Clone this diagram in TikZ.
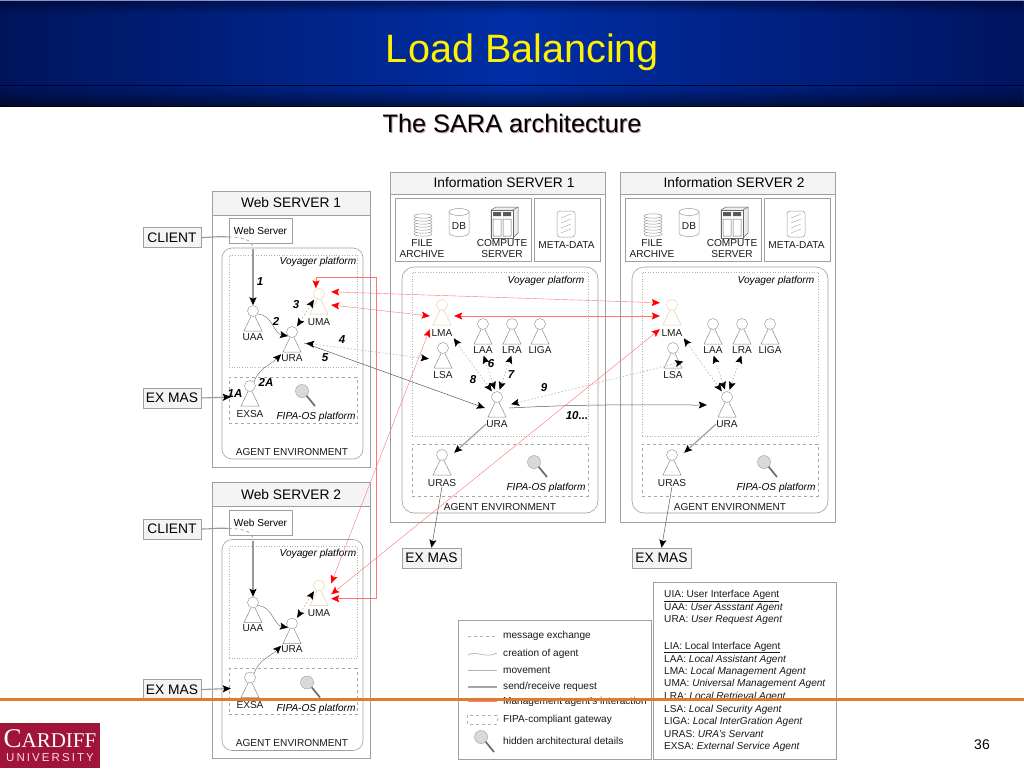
\documentclass[tikz,border=0pt]{standalone}
\usepackage{fontspec}
\usepackage{xcolor}
\setmainfont{Liberation Sans}
\setsansfont{Liberation Sans}
\newfontfamily\logoserif{Liberation Serif}
\newfontfamily\logosans[LetterSpace=18]{Liberation Sans}
\usetikzlibrary{arrows.meta,fadings}

\definecolor{barleft}{RGB}{0,20,92}
\definecolor{barmid}{RGB}{0,46,165}
\definecolor{barright}{RGB}{0,20,96}
\definecolor{cardiff}{RGB}{160,20,60}
\definecolor{rule}{RGB}{224,122,44}
\definecolor{paleagent}{RGB}{232,205,165}

\newcommand{\tensize}{\fontsize{10.1}{11.3}\selectfont}
\newcommand{\boxsize}{\fontsize{13.8}{15}\selectfont}
\newcommand{\stepsize}{\fontsize{11.5}{12}\selectfont\bfseries\itshape}

\tikzset{
  boxline/.style={draw=gray!75, line width=.6pt, inner sep=0pt},
  titlebox/.style={boxline, fill=gray!9, font=\boxsize},
  platform/.style={font=\tensize\itshape, inner sep=0pt},
  plain/.style={font=\tensize, inner sep=0pt, text=black!90},
  glossary/.style={plain, anchor=west},
  stepno/.style={font=\stepsize, inner sep=0pt},
  head/.style={circle, draw, minimum size=11pt, inner sep=0pt, fill=white},
  bodybox/.style={minimum width=24pt, minimum height=26pt, inner sep=0pt},
  request/.style={draw=gray!80, line width=1.1pt, -{Stealth[black,length=8pt,width=7pt,inset=1.5pt]}},
  reqdash/.style={draw=gray!70, line width=.8pt, dashed},
  reqline/.style={draw=gray!80, line width=1.1pt},
  movement/.style={draw=black!65, line width=.5pt, -{Stealth[black,length=8pt,width=7pt,inset=1.5pt]}},
  creation/.style={draw=black!60, line width=.4pt, -{Stealth[black,length=8pt,width=7pt,inset=1.5pt]}},
  message/.style={draw=gray!60, line width=.6pt, dash pattern=on 1.5pt off 2pt,
    shorten <=2pt, shorten >=2pt,
    {Stealth[black,length=8pt,width=7pt,inset=1.5pt]}-{Stealth[black,length=8pt,width=7pt,inset=1.5pt]}},
  manage/.style={draw=red!55, line width=.4pt,
    {Stealth[red,length=8pt,width=7pt,inset=1.5pt]}-{Stealth[red,length=8pt,width=7pt,inset=1.5pt]}}
}

% head, body and name of one agent; #6 is how far the name stands below the head
\newcommand{\agent}[6][gray!90]{%
  \node[head, draw=#1] (#2) at (#3,#4) {};
  \node[bodybox] (#2b) at (#3,#4+11) {};
  \draw[draw=#1, line width=.5pt] (#2.250) -- (#3-9,#4+20) -- (#3+9,#4+20) -- (#2.290);
  \node[plain] (#2L) at (#3,#4+#6) {#5};
}

\newcommand{\magnifier}[2]{%
  \draw[gray!85!black, line width=1.7pt] (#1+4,#2+4) -- (#1+13,#2+15);
  \draw[gray!70, fill=gray!30, line width=.5pt] (#1,#2) circle (6.5);
}

\begin{document}
\begin{tikzpicture}[x=1pt,y=-1pt,font=\tensize]
  \useasboundingbox (0,0) rectangle (1024,768);
  \fill[white] (0,0) rectangle (1024,768);

  % title bar
  \shade[left color=barleft, right color=barright, middle color=barmid] (0,0) rectangle (1024,106);
  \fill[black, opacity=.4, path fading=south] (0,0) rectangle (1024,14);
  \fill[black, opacity=.5, path fading=north] (0,86) rectangle (1024,106);
  \draw[black!80!blue, line width=.8pt] (0,85.5) -- (1024,85.5);
  \draw[black, line width=1pt] (0,106.5) -- (1024,106.5);
  \draw[gray!50!blue!60, line width=.8pt] (0,.4) -- (1024,.4);
  \node[inner sep=0pt, text=yellow, font=\fontsize{39.6}{44}\selectfont] (title) at (522.5,52.5) {Load Balancing};
  \node[inner sep=0pt, text=red!25!gray!70, font=\fontsize{25.3}{28}\selectfont] (subshadow) at (513,124.5) {The SARA architecture};
  \node[inner sep=0pt, text=black, font=\fontsize{25.3}{28}\selectfont] (subtitle) at (512,123.5) {The SARA architecture};

  % web servers
  \foreach \n/\dy/\lensx in {1/0/302,2/291.5/307}{
    \begin{scope}[yshift=-\dy pt]
      \node[boxline, minimum width=158pt, minimum height=276pt] (webw\n) at (291,329) {};
      \node[titlebox, minimum width=158pt, minimum height=24pt] (webh\n) at (291,203) {\raisebox{-.8pt}{Web SERVER \n}};
      \node[boxline, minimum width=63pt, minimum height=25pt, font=\tensize] (site\n) at (260.5,231) {Web Server};
      \node[boxline, rounded corners=10pt, minimum width=141pt, minimum height=211pt] (envw\n) at (292.5,353.5) {};
      \node[boxline, draw=gray!60, dotted, minimum width=128pt, minimum height=112pt] (voyw\n) at (293,311) {};
      \node[boxline, draw=gray!70, dashed, minimum width=128pt, minimum height=46pt] (fipw\n) at (293,400) {};
      \node[platform] (voyl\n) at (318,262) {Voyager platform};
      \node[platform] (fipl\n) at (316,417) {FIPA-OS platform};
      \node[plain] (envl\n) at (292,452) {AGENT ENVIRONMENT};
      \node[titlebox, minimum width=58pt, minimum height=20pt] (clientw\n) at (172,237.5) {CLIENT};
      \node[titlebox, minimum width=58pt, minimum height=20pt] (exmasw\n) at (172,398) {EX MAS};
      \magnifier{\lensx}{391}
      \agent{uaaw\n}{253}{311}{UAA}{26}
      \agent{uraw\n}{292}{332}{URA}{26}
      \agent[paleagent]{umaw\n}{319}{294}{UMA}{28}
      \agent{exsaw\n}{250}{386}{EXSA}{28}
      \coordinate (turnw\n) at (253,249);
      \draw[reqline] (clientw\n.east) to[out=0,in=175] ([yshift=-6pt]site\n.west);
      \draw[reqdash] ([yshift=-6pt]site\n.west) to[out=0,in=90] (turnw\n);
      \draw[request] (turnw\n) -- (uaaw\n.north);
      \draw[creation] (uaaw\n.-30) to[out=-5,in=170] (uraw\n.south west);
      \draw[creation] (exsaw\n.north east) to[out=70,in=225] (uraw\n L.north west);
      \draw[message] (uraw\n.north east) -- (umaw\n.south west);
      \draw[request] (exmasw\n.east) -- ([xshift=-7pt]exsaw\n b.west);
    \end{scope}
  }

  % information servers
  \foreach \n/\dx in {1/0,2/230}{
    \begin{scope}[xshift=\dx pt]
      \node[boxline, minimum width=215pt, minimum height=350pt] (info\n) at (497.5,347) {};
      \node[titlebox, minimum width=215pt, minimum height=22pt] (infoh\n) at (497.5,183) {\hspace*{13pt}Information SERVER \n};
      \node[boxline, minimum width=136pt, minimum height=63pt] (store\n) at (463,229.5) {};
      \node[boxline, minimum width=66pt, minimum height=63pt] (meta\n) at (567,229.5) {};
      \node[boxline, rounded corners=12pt, minimum width=196pt, minimum height=246pt] (envi\n) at (500,390) {};
      \node[boxline, draw=gray!60, dotted, minimum width=176pt, minimum height=164pt] (voyi\n) at (500,354) {};
      \node[boxline, draw=gray!70, dashed, minimum width=176pt, minimum height=52pt] (fipi\n) at (500,470) {};
      \node[platform] (voyil\n) at (546,281) {Voyager platform};
      \node[platform] (fipil\n) at (546,488) {FIPA-OS platform};
      \node[plain] (envil\n) at (500,507) {AGENT ENVIRONMENT};
      \node[titlebox, minimum width=59pt, minimum height=20pt] (exmasi\n) at (431.5,558) {EX MAS};
      \magnifier{534}{462}

      % file archive, data base, compute server, meta-data
      \foreach \yy in {234,231,...,216}{
        \draw[gray!80, fill=white, line width=.5pt] (423,\yy) ellipse (9 and 2.2);
      }
      \draw[gray!80, line width=.5pt] (449,212) -- (449,233) arc[start angle=180, end angle=360, x radius=10, y radius=-3.5] -- (469,212);
      \draw[gray!80, fill=white, line width=.5pt] (459,212) ellipse (10 and 3.5);
      \node[plain] (dbl\n) at (459,226) {DB};
      \draw[black!60, fill=gray!15, line width=.5pt] (491,210) -- (496,207) -- (518,207) -- (518,233) -- (513,238) -- (491,238) -- cycle;
      \draw[black!60, fill=white, line width=.5pt] (491,210) rectangle (513,238);
      \fill[black!65] (493,212) rectangle (501,216) (503,212) rectangle (511,216);
      \draw[black!60, line width=.5pt] (493,219) rectangle (501,236) (503,219) rectangle (511,236) (513,210) -- (518,207);
      \draw[gray!80, rounded corners=3pt, line width=.5pt] (557,211) rectangle (575,237);
      \foreach \yy in {218,223,228,233}{
        \draw[gray!70, line width=.4pt] (561,\yy) -- (571,\yy-4);
      }
      \node[plain, align=center] (filel\n) at (422,248.5) {FILE\\ARCHIVE};
      \node[plain, align=center] (compl\n) at (502,248.5) {COMPUTE\\SERVER};
      \node[plain] (metal\n) at (566.5,245) {META-DATA};

      \agent[paleagent]{lmai\n}{442}{305}{LMA}{28}
      \agent{laai\n}{483}{324}{LAA}{26}
      \agent{lrai\n}{512}{324}{LRA}{26}
      \agent{ligai\n}{540}{324}{LIGA}{26}
      \agent{lsai\n}{443}{348}{LSA}{27}
      \agent{urai\n}{497}{397}{URA}{27}
      \agent{urasi\n}{442}{455}{URAS}{28}
      \draw[message] (lmai\n L.south east) -- (urai\n.135);
      \draw[message] (laai\n L.south) -- (urai\n.105);
      \draw[message] (lrai\n L.south) -- (urai\n.70);
      \draw[request] (urai\n L.west) -- (urasi\n b.north east);
      \draw[movement] (urasi\n L.south) -- (exmasi\n.north);
    \end{scope}
  }

  % between the servers
  \draw[movement] (uraw1b.east) -- (urai1b.west);
  \draw[movement] (urai1b.east) to[out=3,in=180] ([xshift=-8pt,yshift=3pt]urai2b.west);
  \draw[message] (uraw1b.east) -- (lsai1b.west);
  \draw[message] (urai1b.15) -- (lsai2b.-10);

  % management agents
  \coordinate (redturn) at (376,277);
  \draw[manage] ([xshift=-3pt]umaw1.north) |- (redturn) |- (umaw2b.-10);
  \draw[manage] (umaw1b.north east) -- (lmai2b.north west);
  \draw[manage] (umaw1b.east) -- (lmai1b.west);
  \draw[manage] (lmai1b.east) -- (lmai2b.west);
  \draw[manage] (umaw2b.north east) -- (lmai1b.south west);
  \draw[manage] (umaw2b.10) -- (lmai2b.south west);

  % step numbers
  \node[stepno] (s1) at (260,282) {1};
  \node[stepno] (s2) at (276,321) {2};
  \node[stepno] (s3) at (296,305) {3};
  \node[stepno] (s4) at (342,340) {4};
  \node[stepno] (s5) at (325,358) {5};
  \node[stepno] (s2a) at (266,382) {2A};
  \node[stepno] (s1a) at (235,394) {1A};
  \node[stepno] (s6) at (491,364) {6};
  \node[stepno] (s7) at (511,375) {7};
  \node[stepno] (s8) at (473,380) {8};
  \node[stepno] (s9) at (544,388) {9};
  \node[stepno] (s10) at (577,416) {10...};

  % legend
  \node[boxline, minimum width=193pt, minimum height=139pt] (legend) at (554.5,689.5) {};
  \node[glossary] (lg1) at (503,635.5) {message exchange};
  \node[glossary] (lg2) at (503,654) {creation of agent};
  \node[glossary] (lg3) at (503,670.5) {movement};
  \node[glossary] (lg4) at (503,686.5) {send/receive request};
  \node[glossary] (lg5) at (503,701.5) {Management agent's interaction};
  \node[glossary] (lg6) at (503,720) {FIPA-compliant gateway};
  \node[glossary] (lg7) at (503,740.5) {hidden architectural details};
  \draw[gray!60, line width=.5pt, dashed] (468,636) -- (497,636);
  \draw[gray!75, line width=.5pt] (468,655) .. controls (476,650) and (486,659) .. (497,653);
  \draw[gray!60, line width=.5pt] (468,670) -- (497,670);
  \draw[gray!70, line width=1.3pt] (468,687) -- (497,687);
  \draw[red!50, line width=.5pt] (468,701) -- (497,701);
  \draw[gray!60, line width=.5pt, dashed] (467,715) rectangle (497,724);
  \magnifier{481}{737}

  % agent names
  \node[boxline, minimum width=183pt, minimum height=177pt] (names) at (744.5,670.5) {};
  \node[glossary] (gluia) at (664,596) {\underline{UIA: User Interface Agent}};
  \node[glossary] (glia) at (664,647.5) {\underline{LIA: Local Interface Agent}};
  \foreach \gy/\gname/\gtext in {608/UAA/User Assstant Agent, 620/URA/User Request Agent,
      659.5/LAA/Local Assistant Agent, 672/LMA/Local Management Agent,
      684/UMA/Universal Management Agent, 697/LRA/Local Retrieval Agent,
      709.5/LSA/Local Security Agent, 722/LIGA/Local InterGration Agent,
      734/URAS/URA's Servant, 747/EXSA/External Service Agent}{
    \node[glossary] (gl\gname) at (664,\gy) {\gname: \textit{\gtext}};
  }

  % footer
  \fill[cardiff] (0,723) rectangle (100,768);
  \node[inner sep=0pt, text=white, font=\logoserif\fontsize{21}{24}\selectfont] (cardiffname) at (50,739) {{\fontsize{27}{24}\selectfont C}ARDIFF};
  \node[inner sep=0pt, text=red!15!white, font=\logosans\fontsize{11.5}{13}\selectfont] (cardiffuni) at (50,757.5) {UNIVERSITY};
  \node[inner sep=0pt, font=\fontsize{14}{16}\selectfont] (pageno) at (982,745) {36};
  \draw[rule, line width=2.4pt] (0,699.5) -- (1024,699.5);
\end{tikzpicture}
\end{document}
